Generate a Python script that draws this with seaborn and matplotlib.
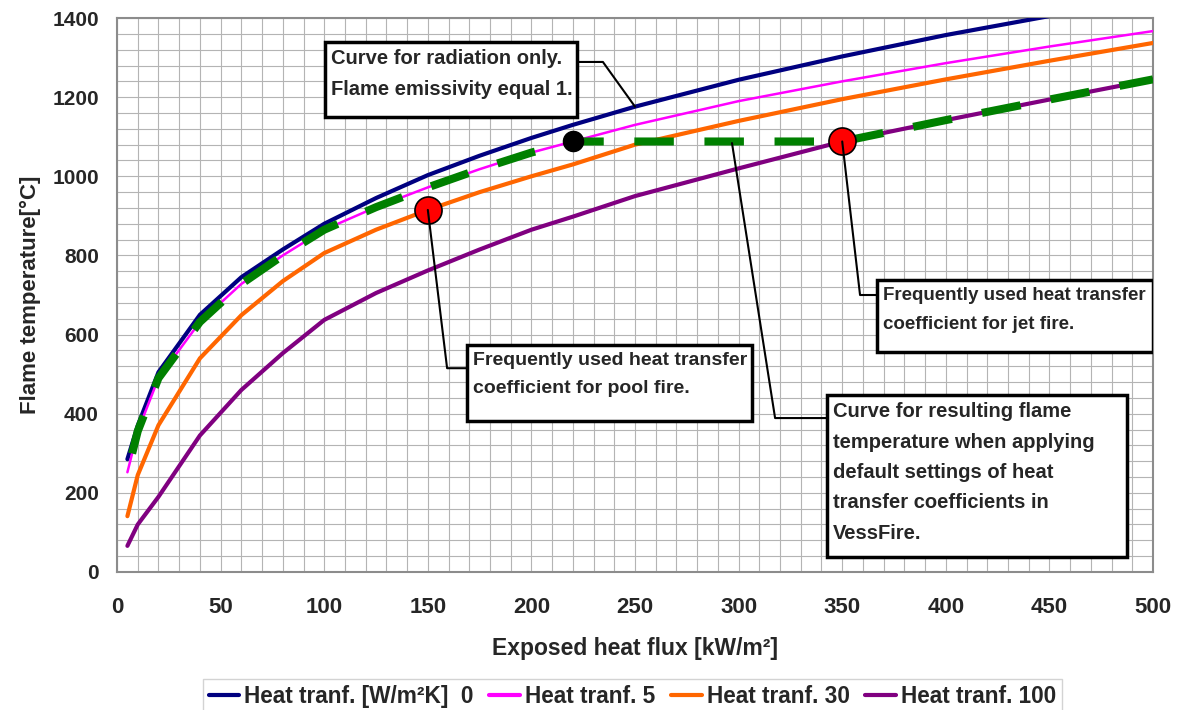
import numpy as np
import pandas as pd
import seaborn as sns
import matplotlib.pyplot as plt
from matplotlib.patches import Rectangle
from matplotlib.ticker import MultipleLocator

# exposed heat flux [kW/m2]
flux = [5, 10, 20, 40, 60, 80, 100, 125, 150, 175, 200, 220, 250, 300, 350, 400, 450, 500]
# flame temperature [C] for the four heat transfer coefficients
t_h0 = [285, 370, 505, 650, 745, 815, 880, 945, 1003, 1052, 1097, 1130, 1176, 1244, 1303, 1357, 1405, 1450]
t_h5 = [252, 356, 490, 632, 728, 800, 865, 922, 972, 1018, 1060, 1088, 1130, 1190, 1240, 1286, 1328, 1367]
t_h30 = [141, 245, 371, 540, 649, 735, 806, 865, 915, 960, 1000, 1030, 1080, 1140, 1195, 1245, 1292, 1337]
t_h100 = [66, 120, 190, 345, 460, 553, 637, 705, 762, 815, 865, 898, 950, 1020, 1088, 1142, 1194, 1245]
labels = ['Heat tranf. [W/m²K]  0', 'Heat tranf. 5', 'Heat tranf. 30', 'Heat tranf. 100']
colors = ['#000080', '#ff00ff', '#ff6600', '#800080']
widths = [3.0, 1.8, 3.0, 3.0]

# default VessFire curve: h=5 up to 220, flat, then h=100 from 350
vf_flux = flux[:12] + [350, 400, 450, 500]
vf_temp = t_h5[:12] + [1088, 1142, 1194, 1245]

# highlighted points
dot_black = (220, 1088)
dot_red = [(150, 915), (350, 1088)]

sns.set_style('white')
plt.rcParams['font.family'] = ['Liberation Sans', 'DejaVu Sans']

fig = plt.figure(figsize=(11.81, 7.10), dpi=100)
ax = fig.add_axes([0.0991, 0.1944, 0.8772, 0.7802])

for y, lab, c, w in zip([t_h0, t_h5, t_h30, t_h100], labels, colors, widths):
    df = pd.DataFrame({'flux': flux, 'temp': y})
    sns.lineplot(data=df, x='flux', y='temp', color=c, linewidth=w, label=lab, ax=ax, zorder=3)

vf = pd.DataFrame({'flux': vf_flux, 'temp': vf_temp})
sns.lineplot(data=vf, x='flux', y='temp', color='#008000', linewidth=5.8, sort=False,
             ax=ax, zorder=4, legend=False)
ax.lines[-1].set_linestyle((6.3, (4.9, 3.8)))
ax.lines[-1].set_dash_capstyle('butt')

ax.scatter([dot_black[0]], [dot_black[1]], s=210, color='black', edgecolor='black', zorder=6)
ax.scatter([p[0] for p in dot_red], [p[1] for p in dot_red], s=380, color='#ff0000',
           edgecolor='black', linewidth=1.2, zorder=6)

ax.set_xlim(0, 500)
ax.set_ylim(0, 1400)
ax.xaxis.set_major_locator(MultipleLocator(50))
ax.yaxis.set_major_locator(MultipleLocator(200))
ax.xaxis.set_minor_locator(MultipleLocator(10))
ax.yaxis.set_minor_locator(MultipleLocator(40))
ax.grid(which='both', color='#b4b4b4', linewidth=0.8, zorder=0)
ax.set_axisbelow(True)
ax.tick_params(which='major', direction='out', length=5, color='#808080', width=1)
ax.tick_params(which='minor', length=0)
ax.tick_params(axis='y', pad=8, labelsize=15)
ax.tick_params(axis='x', pad=13, labelsize=16)
for t in ax.get_yticklabels() + ax.get_xticklabels():
    t.set_fontweight('bold')
for s in ax.spines.values():
    s.set_color('#8c8c8c')
    s.set_linewidth(1.5)

ax.set_xlabel('Exposed heat flux [kW/m²]', fontsize=16.5, fontweight='bold', labelpad=14)
ax.set_ylabel('Flame temperature[°C]', fontsize=16, fontweight='bold', labelpad=8)

# annotation boxes (data coords: left, bottom, right, top), font size and leader lines
boxes = [
    ((100.4, 1150, 222, 1339), 'Curve for radiation only.\nFlame emissivity equal 1.', 14.5,
     [(222, 1289), (234.5, 1289), (flux[12], t_h0[12])]),
    ((169, 382, 306.5, 574), 'Frequently used heat transfer\ncoefficient for pool fire.', 14,
     [(169, 515), (159.3, 515), dot_red[0]]),
    ((366.8, 556, 500, 738), 'Frequently used heat transfer\ncoefficient for jet fire.', 13.5,
     [(366.8, 700), (358.6, 700), dot_red[1]]),
    ((342.7, 38, 487.5, 447), 'Curve for resulting flame\ntemperature when applying\ndefault settings of heat\n'
     'transfer coefficients in\nVessFire.', 14.5,
     [(342.7, 389), (317.6, 389), (296.8, 1084)]),
]
for (x0, y0, x1, y1), txt, fs, path in boxes:
    ax.plot([p[0] for p in path], [p[1] for p in path], color='black', linewidth=1.5, zorder=7)
    ax.add_patch(Rectangle((x0, y0), x1 - x0, y1 - y0, facecolor='white', edgecolor='black',
                           linewidth=2.5, zorder=8))
    ax.text(x0 + 3, y1 - 18, txt, ha='left', va='top', fontsize=fs, fontweight='bold',
            linespacing=1.76 * 14.5 / fs, zorder=9)

leg = ax.legend(loc='upper left', bbox_to_anchor=(0.1719, 0.0437), bbox_transform=fig.transFigure,
                ncol=4, frameon=True, fancybox=False, handlelength=1.35,
                handletextpad=0.22, columnspacing=0.7, borderpad=0.25, borderaxespad=0,
                prop={'weight': 'bold', 'size': 16.3})
leg.get_frame().set_edgecolor('#c8c8c8')
leg.get_frame().set_linewidth(1.0)
for h in leg.legend_handles:
    h.set_linewidth(3.0)

fig.savefig('out.png', dpi=100)
